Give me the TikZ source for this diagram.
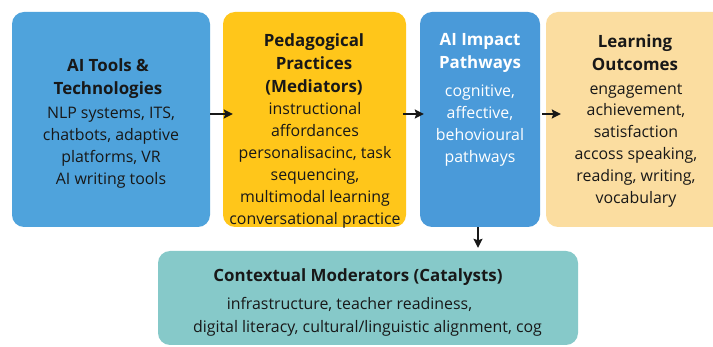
\documentclass[tikz,border=0pt]{standalone}
\usepackage{fontspec}
\setmainfont{Open Sans}
\usetikzlibrary{arrows.meta}
\definecolor{cblue}{HTML}{4FA3DC}
\definecolor{cblueb}{HTML}{4A9AD9}
\definecolor{cyellow}{HTML}{FFC61A}
\definecolor{corange}{HTML}{FBDDA0}
\definecolor{cteal}{HTML}{86C9C9}
\definecolor{textc}{HTML}{181818}
\begin{document}
\begin{tikzpicture}[x=1pt,y=-1pt,
  box/.style={rounded corners=12pt, inner sep=0pt, draw=none},
  body/.style={font=\fontsize{15.9}{21.9}\selectfont, align=center, text=textc, inner sep=0pt},
  head/.style={font=\fontsize{16.9}{23}\selectfont\bfseries, align=center, text=textc, inner sep=0pt},
  arr/.style={-{Stealth[length=9pt,width=9pt,inset=1.5pt]}, line width=2pt, draw=textc}]
\clip (0,0) rectangle (713,347);
\fill[white] (0,0) rectangle (713,347);
% boxes
\node[box, fill=cblue, minimum width=198pt, minimum height=215pt] (b1) at (111,119.5) {};
\node[box, fill=cyellow, minimum width=183pt, minimum height=215pt] (b2) at (314.5,119.5) {};
\node[box, fill=cblueb, minimum width=120pt, minimum height=215pt] (b3) at (480,119.5) {};
\node[box, fill=corange, minimum width=190pt, minimum height=215pt] (b4) at (641,119.5) {};
\node[box, fill=cteal, minimum width=420pt, minimum height=94pt] (b5) at (368,298) {};
% texts
\node[head] (t1h) at (108,78.5) {AI Tools \&\\Technologies};
\node[body] (t1b) at (111,148) {NLP systems, ITS,\\chatbots, adaptive\\platforms, VR\\AI writing tools};
\node[head] (t2h) at (314,64.5) {Pedagogical\\Practices\\(Mediators)};
\node[body] (t2b) at (315,165.5) {instructional\\affordances\\personalisacinc, task\\sequencing,\\multimodal learning\\conversational practice};
\node[head, text=white] (t3h) at (480,53) {AI Impact\\Pathways};
\node[body, text=white] (t3b) at (480,125.5) {cognitive,\\affective,\\behovioural\\pathways};
\node[head] (t4h) at (635,53) {Learning\\Outcomes};
\node[body] (t4b) at (636,145.5) {engagement\\achievement,\\satisfaction\\accoss speaking,\\reading, writing,\\vocabulary};
\node[head] (t5h) at (358,277.5) {Contextual Moderators (Catalysts)};
\node[body] (t5a) at (349.5,304.5) {infrastructure, teacher readiness,};
\node[body] (t5b) at (367.5,328.5) {digital literacy, cultural/linguistic alignment, cog};
% arrows
\draw[arr] ([yshift=5.5pt]b1.east) -- ([xshift=10pt,yshift=5.5pt]b2.west);
\draw[arr] ([xshift=-3pt,yshift=5.5pt]b2.east) -- ([xshift=4pt,yshift=5.5pt]b3.west);
\draw[arr] ([xshift=2pt,yshift=5.5pt]b3.east) -- ([xshift=15pt,yshift=5.5pt]b4.west);
\draw[arr] ([xshift=-2pt]b3.south) -- ([xshift=-2pt,yshift=3pt]b3.south |- b5.north);
\end{tikzpicture}
\end{document}
